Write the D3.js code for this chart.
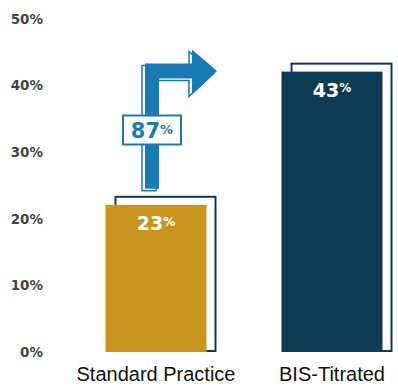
<!DOCTYPE html>
<html><head><meta charset="utf-8">
<script src="https://cdn.jsdelivr.net/npm/d3@7"></script>
<style>body{margin:0;background:#fff}svg{display:block}</style>
</head><body>
<script>
const categories = ["Standard Practice", "BIS-Titrated"];
const values = [23, 43];
const valueLabels = ["23", "43"];
const colors = ["#c8961f", "#0e3a52"];
const tickValues = [0, 10, 20, 30, 40, 50];
const tickLabels = ["0%", "10%", "20%", "30%", "40%", "50%"];
const increaseLabel = "87";

const W = 398, H = 386;
const svg = d3.select("body").append("svg").attr("width", W).attr("height", H);

const y = d3.scaleLinear().domain([0, 50]).range([352, 19]);
const x = d3.scalePoint().domain(categories).range([156, 332]);
const bw = 101;
const blue = "#1a7ab4";
const navy = "#0e3a52";

// y tick labels
svg.append("g").selectAll("text").data(tickValues).join("text")
  .attr("x", 43).attr("y", d => y(d)).attr("dy", "0.36em")
  .attr("text-anchor", "end")
  .attr("font-family", "DejaVu Sans").attr("font-weight", 600).attr("font-size", 13.5)
  .attr("fill", "#444")
  .text((d, i) => tickLabels[i]);

// outline (back) frames
svg.append("g").selectAll("rect").data(values).join("rect")
  .attr("x", (d, i) => x(categories[i]) - bw / 2 + 10)
  .attr("y", d => y(d) - 2)
  .attr("width", bw - 1)
  .attr("height", d => y(0) - y(d) + 1)
  .attr("fill", "#fff").attr("stroke", navy).attr("stroke-width", 2);

// bars
svg.append("g").selectAll("rect").data(values).join("rect")
  .attr("x", (d, i) => x(categories[i]) - bw / 2)
  .attr("y", d => y(d) + 6)
  .attr("width", bw)
  .attr("height", d => y(0) - y(d) - 6)
  .attr("fill", (d, i) => colors[i]);

// value labels
const vl = svg.append("g").selectAll("text").data(values).join("text")
  .attr("x", (d, i) => x(categories[i]))
  .attr("y", d => y(d) + 31)
  .attr("text-anchor", "middle")
  .attr("font-family", "DejaVu Sans").attr("font-weight", "bold").attr("font-size", 19)
  .attr("fill", "#fff");
vl.append("tspan").text((d, i) => valueLabels[i]);
vl.append("tspan").attr("font-size", 12).attr("dy", "-0.35em").text("%");

// category labels
svg.append("g").selectAll("text").data(categories).join("text")
  .attr("x", d => x(d)).attr("y", 381)
  .attr("text-anchor", "middle")
  .attr("font-family", "Liberation Sans").attr("font-size", 20)
  .attr("fill", "#111")
  .text(d => d);

// arrow annotation
const sx0 = x(categories[0]) - 11, sx1 = sx0 + 14;
const sb = y(values[0]) - 10;
const ht = y(values[1]) - 2, hb = ht + 15;
const hx = x(categories[0]) + 36, tip = hx + 25;
const arrowPath = (dx, dy) => {
  const p = d3.path();
  p.moveTo(sx0 + dx, sb + dy);
  p.lineTo(sx0 + dx, ht + dy);
  p.lineTo(hx + dx, ht + dy);
  p.lineTo(hx + dx, ht - 14 + dy);
  p.lineTo(tip + dx, (ht + hb) / 2 + dy);
  p.lineTo(hx + dx, hb + 16 + dy);
  p.lineTo(hx + dx, hb + dy);
  p.lineTo(sx1 + dx, hb + dy);
  p.lineTo(sx1 + dx, sb + dy);
  p.closePath();
  return p.toString();
};
svg.append("path").attr("d", arrowPath(-3, 2))
  .attr("fill", "#fff").attr("stroke", blue).attr("stroke-width", 1.5);
svg.append("path").attr("d", arrowPath(0, 0)).attr("fill", blue);

// increase label box
const bx = (sx0 + sx1) / 2;
const by = 130;
svg.append("rect").attr("x", bx - 29).attr("y", by - 14.5).attr("width", 58).attr("height", 29)
  .attr("fill", "#fff").attr("stroke", blue).attr("stroke-width", 2);
const il = svg.append("text").attr("x", bx).attr("y", by + 8)
  .attr("text-anchor", "middle")
  .attr("font-family", "DejaVu Sans").attr("font-weight", "bold").attr("font-size", 21)
  .attr("fill", blue);
il.append("tspan").text(increaseLabel);
il.append("tspan").attr("font-size", 13).attr("dy", "-0.3em").text("%");
</script>
</body></html>
